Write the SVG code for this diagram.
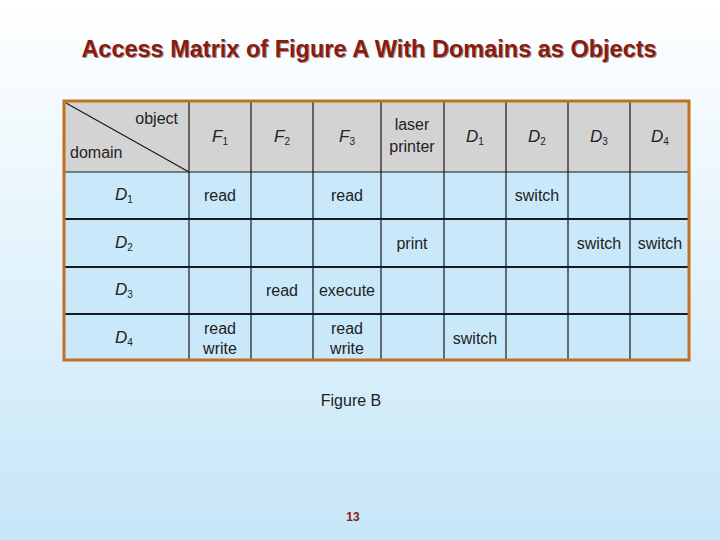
<svg xmlns="http://www.w3.org/2000/svg" width="720" height="540" viewBox="0 0 720 540">
<defs>
<linearGradient id="bg" x1="0" y1="0" x2="0" y2="1"><stop offset="0" stop-color="#ffffff"/><stop offset="1" stop-color="#c6e6f8"/></linearGradient>
<style>
text{font-family:"Liberation Sans",Arial,sans-serif;fill:#222}
.c{font-size:16px;text-anchor:middle}
.h{font-size:17px;text-anchor:middle;font-style:italic}
.s{font-size:10px;font-style:normal}
.g{stroke:#1a1a1a;stroke-width:1.2;fill:none}
</style>
</defs>
<rect width="720" height="540" fill="url(#bg)"/>
<text x="370" y="58" font-size="23.5" font-weight="bold" text-anchor="middle" style="fill:#9a8a80">Access Matrix of Figure A With Domains as Objects</text>
<text x="369" y="57" font-size="23.5" font-weight="bold" text-anchor="middle" style="fill:#8b1a10">Access Matrix of Figure A With Domains as Objects</text>
<g id="matrix">
<rect x="64" y="101" width="625" height="71" fill="#d3d3d3"/>
<rect x="64" y="172" width="625" height="188" fill="#c9e9fa"/>
<g class="g">
<line x1="64" y1="172" x2="689" y2="172"/><line x1="64" y1="219" x2="689" y2="219" stroke-width="2"/>
<line x1="64" y1="267" x2="689" y2="267" stroke-width="2"/><line x1="64" y1="314" x2="689" y2="314" stroke-width="2"/>
<line x1="189" y1="101" x2="189" y2="360"/><line x1="251" y1="101" x2="251" y2="360"/>
<line x1="313" y1="101" x2="313" y2="360"/><line x1="381" y1="101" x2="381" y2="360"/>
<line x1="444" y1="101" x2="444" y2="360"/><line x1="506" y1="101" x2="506" y2="360"/>
<line x1="568" y1="101" x2="568" y2="360"/><line x1="630" y1="101" x2="630" y2="360"/>
<line x1="66" y1="103" x2="189" y2="172"/>
</g>
<rect x="64" y="101" width="625" height="259" fill="none" stroke="#c0701e" stroke-width="3"/>
<text x="178" y="124" class="c" style="text-anchor:end">object</text>
<text x="70" y="158" class="c" style="text-anchor:start">domain</text>
<text x="220" y="142" class="h">F<tspan class="s" dy="3">1</tspan></text>
<text x="282" y="142" class="h">F<tspan class="s" dy="3">2</tspan></text>
<text x="347" y="142" class="h">F<tspan class="s" dy="3">3</tspan></text>
<text x="412" y="130" class="c">laser</text><text x="412" y="152" class="c">printer</text>
<text x="475" y="142" class="h">D<tspan class="s" dy="3">1</tspan></text>
<text x="537" y="142" class="h">D<tspan class="s" dy="3">2</tspan></text>
<text x="599" y="142" class="h">D<tspan class="s" dy="3">3</tspan></text>
<text x="660" y="142" class="h">D<tspan class="s" dy="3">4</tspan></text>
<text x="124" y="200" class="h">D<tspan class="s" dy="3">1</tspan></text>
<text x="124" y="248" class="h">D<tspan class="s" dy="3">2</tspan></text>
<text x="124" y="295" class="h">D<tspan class="s" dy="3">3</tspan></text>
<text x="124" y="343" class="h">D<tspan class="s" dy="3">4</tspan></text>
<text x="220" y="201" class="c">read</text><text x="347" y="201" class="c">read</text><text x="537" y="201" class="c">switch</text>
<text x="412" y="249" class="c">print</text><text x="599" y="249" class="c">switch</text><text x="660" y="249" class="c">switch</text>
<text x="282" y="296" class="c">read</text><text x="347" y="296" class="c">execute</text>
<text x="220" y="334" class="c">read</text><text x="220" y="354" class="c">write</text>
<text x="347" y="334" class="c">read</text><text x="347" y="354" class="c">write</text>
<text x="475" y="344" class="c">switch</text>
</g>
<text x="351" y="406" font-size="16" text-anchor="middle">Figure B</text>
<text x="353" y="521" font-size="12" font-weight="bold" text-anchor="middle" style="fill:#8b1a10">13</text>
</svg>
